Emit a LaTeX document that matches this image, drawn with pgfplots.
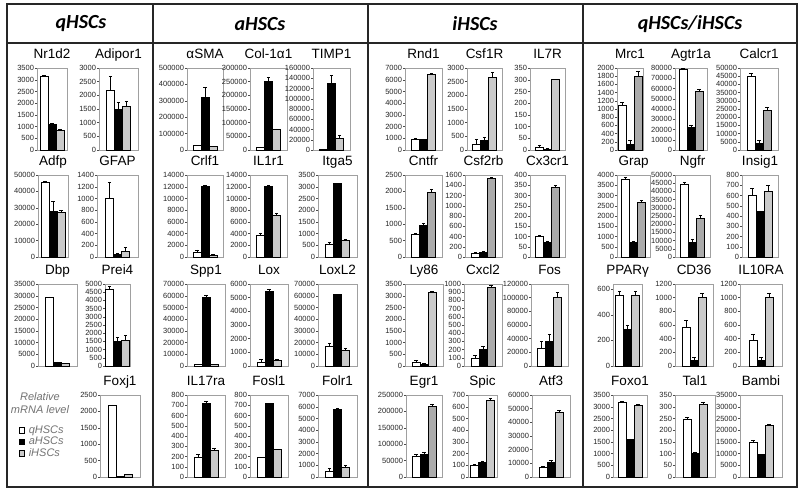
\documentclass[border=0pt]{standalone}
\usepackage{pgfplots}
\pgfplotsset{compat=1.18}
\usepackage{fontspec}
\setmainfont{Liberation Sans}
\newfontfamily\hdrfont{Carlito}
\definecolor{ibar}{HTML}{CACACA}
\definecolor{ibarD}{HTML}{ABABAB}
\definecolor{boxc}{HTML}{A0A0A0}
\pgfplotsset{
  panel/.style={
    scale only axis, clip=false,
    axis line style={boxc, line width=0.6pt},
    ymin=0, xtick=\empty, ytick pos=left,
    ytick style={black!70, line width=0.4pt}, tick align=outside, major tick length=2pt,
    yticklabel style={font=\fontsize{7.5}{7.5}\selectfont, inner sep=0.8pt, text=black!85},
    /pgf/number format/assume math mode=true,
    /pgf/number format/fixed,
    /pgf/number format/precision=0,
    /pgf/number format/1000 sep={},
    scaled y ticks=false,
    title style={font=\fontsize{13.5}{13.5}\selectfont, at={(0.5,1)}, anchor=base, yshift=3.5pt, inner sep=0pt},
    error bars/y dir=plus, error bars/y explicit,
    error bars/error bar style={black, line width=0.5pt},
    error bars/error mark options={rotate=90, mark size=1.6pt, line width=0.5pt, black},
  },
  bq/.style={ybar, bar width=1, bar shift=0pt, fill=white, draw=black, line width=0.5pt},
  ba/.style={ybar, bar width=1, bar shift=0pt, fill=black, draw=black, line width=0.5pt},
  bi/.style={ybar, bar width=1, bar shift=0pt, fill=ibar, draw=black, line width=0.5pt},
  dark/.style={bi/.append style={fill=ibarD}},
  sqlegend/.style={legend image code/.code={\draw[##1,/tikz/.cd,line width=0.5pt] (0pt,-2.6pt) rectangle (5.4pt,2.8pt);}},
}
\newcommand\panel[6]{%
  \pgfmathsetmacro\xa{2-#3/16}\pgfmathsetmacro\xb{2+#3/16}%
  \begin{axis}[panel, at={(#1pt,#2pt)}, anchor=south west, width=#3pt, height=82pt,
      xmin=\xa, xmax=\xb, title={#5}, #4]
  \addplot[bq] table[header=false, row sep=\\, x expr=1, y index=0, y error index=1] {#6\\};
  \addplot[ba] table[header=false, row sep=\\, x expr=2, y index=2, y error index=3] {#6\\};
  \addplot[bi] table[header=false, row sep=\\, x expr=3, y index=4, y error index=5] {#6\\};
  \end{axis}}
\begin{document}
\begin{tikzpicture}[x=1pt,y=1pt]
\fill[white] (0,0) rectangle (800,494);
% frame
\draw[line width=1.6pt, black!85] (7,7) rectangle (797,490);
\draw[line width=1.6pt, black!85] (7,451) -- (797,451);
\foreach \xx in {153,368,583} \draw[line width=1.6pt, black!85] (\xx,7) -- (\xx,490);
\node[font=\hdrfont\bfseries\itshape\fontsize{20}{20}\selectfont] at (81,470) {qHSCs};
\node[font=\hdrfont\bfseries\itshape\fontsize{20}{20}\selectfont] at (260,470) {aHSCs};
\node[font=\hdrfont\bfseries\itshape\fontsize{20}{20}\selectfont] at (475,470) {iHSCs};
\node[font=\hdrfont\bfseries\itshape\fontsize{20}{20}\selectfont] at (690,470) {qHSCs/iHSCs};
% row 1
\panel{37}{344}{30}{ymax=3500, ytick distance=500}{Nr1d2}{3150 50 1100 30 850 40}
\panel{99}{344}{39}{ymax=3000, ytick distance=500}{Adipor1}{2200 480 1500 250 1600 200}
\panel{187}{344}{36}{ymax=500000, ytick distance=100000}{αSMA}{30000 0 320000 60000 22000 0}
\panel{250}{344}{37}{ymax=300000, ytick distance=50000}{Col-1α1}{10000 0 250000 15000 75000 2000}
\panel{313}{344}{37}{ymax=160000, ytick distance=20000}{TIMP1}{1500 0 130000 15000 22000 6000}
\panel{405}{344}{37}{ymax=7000, ytick distance=1000}{Rnd1}{920 120 880 40 6430 80}
\panel{467}{344}{35}{ymax=3000, ytick distance=500}{Csf1R}{200 200 350 130 2650 180}
\panel{530}{344}{35}{ymax=350, ytick distance=50}{IL7R}{12 10 5 3 300 3}
\panel{617}{344}{26}{ymax=2000, ytick distance=200, dark}{Mrc1}{1100 70 150 80 1800 120}
\panel{675}{344}{32}{ymax=80000, ytick distance=10000, dark}{Agtr1a}{79000 600 22000 2500 57000 2000}
\panel{740}{344}{38}{ymax=50000, ytick distance=5000, dark}{Calcr1}{45000 1500 4000 2000 24000 2000}
% row 2
\panel{38}{237}{30}{ymax=50000, ytick distance=10000}{Adfp}{45500 700 28000 6000 27500 800}
\panel{97}{237}{41}{ymax=1400, ytick distance=200}{GFAP}{1000 280 50 10 100 70}
\panel{187}{237}{36}{ymax=14000, ytick distance=2000}{Crlf1}{800 400 12100 150 300 150}
\panel{250}{237}{37}{ymax=14000, ytick distance=2000}{IL1r1}{3700 400 12000 200 7200 300}
\panel{318}{237}{39}{ymax=3500, ytick distance=500}{Itga5}{550 100 3150 0 700 50}
\panel{405}{237}{37}{ymax=2500, ytick distance=500, dark}{Cntfr}{680 50 980 60 1980 100}
\panel{465}{237}{37}{ymax=1600, ytick distance=200, dark}{Csf2rb}{70 15 90 15 1530 20}
\panel{530}{237}{35}{ymax=400, ytick distance=50, dark}{Cx3cr1}{100 5 70 8 340 10}
\panel{617}{237}{33}{ymax=4000, ytick distance=500, dark}{Grap}{3800 100 700 80 2650 100}
\panel{675}{237}{35}{ymax=50000, ytick distance=5000, dark}{Ngfr}{44500 1000 9000 2000 23500 2000}
\panel{742}{237}{36}{ymax=800, ytick distance=100}{Insig1}{600 70 450 0 640 60}
% row 3
\panel{38}{128}{39}{ymax=35000, ytick distance=5000}{Dbp}{29500 0 1800 0 1200 0}
\panel{105}{128}{25}{ymax=5000, ytick distance=500}{Prei4}{4700 150 1500 250 1600 250}
\panel{187}{128}{38}{ymax=70000, ytick distance=10000}{Spp1}{1500 0 59000 1500 1500 0}
\panel{250}{128}{38}{ymax=6000, ytick distance=1000}{Lox}{250 250 5500 100 450 80}
\panel{318}{128}{39}{ymax=70000, ytick distance=10000}{LoxL2}{17000 2000 61000 0 13500 1500}
\panel{405}{128}{38}{ymax=3500, ytick distance=500}{Ly86}{150 100 80 30 3150 40}
\panel{464}{128}{38}{ymax=1000, ytick distance=100, dark}{Cxcl2}{90 35 210 30 960 30}
\panel{531}{128}{37}{ymax=120000, ytick distance=20000}{Fos}{26000 10000 36000 10000 101000 7000}
\panel{613}{128}{29}{ymax=640, ytick={0,200,400,600}}{PPARγ}{550 35 290 30 550 30}
\panel{675}{128}{38}{ymax=1200, ytick distance=200}{CD36}{570 100 80 50 1000 60}
\panel{740}{128}{42}{ymax=1200, ytick distance=200}{IL10RA}{370 90 80 50 1000 70}
% row 4
\panel{100}{17}{40}{ymax=2500, ytick distance=500, sqlegend,
   legend entries={qHSCs,aHSCs,iHSCs}, legend cell align=left,
   legend style={at={(axis description cs:-2.11,0.66)}, anchor=north west, draw=none, fill=none,
     font=\itshape\fontsize{11}{11}\selectfont, text=black!55, row sep=1pt, nodes={inner sep=0.6pt},
     /tikz/every odd column/.append style={column sep=3.5pt}},
   extra description/.code={\node[font=\itshape\fontsize{11}{12.5}\selectfont, text=black!55, align=center] at (axis description cs:-1.5,0.9) {Relative\\mRNA level};}
   }{Foxj1}{2200 0 30 0 80 0}
\panel{187}{17}{38}{ymax=800, ytick distance=100}{IL17ra}{195 25 720 15 265 15}
\panel{250}{17}{38}{ymax=800, ytick distance=100}{Fosl1}{195 0 720 0 270 0}
\panel{318}{17}{39}{ymax=7000, ytick distance=1000}{Folr1}{500 250 5800 100 800 200}
\panel{406}{17}{36}{ymax=250000, ytick distance=50000, dark}{Egr1}{64000 5000 70000 5000 216000 7000}
\panel{468}{17}{29}{ymax=700, ytick distance=100}{Spic}{100 10 125 12 655 15}
\panel{532}{17}{38}{ymax=60000, ytick distance=10000}{Atf3}{7000 1000 11000 1000 47500 1500}
\panel{613}{17}{34}{ymax=3500, ytick distance=500}{Foxo1}{3180 50 1600 30 3050 50}
\panel{675}{17}{40}{ymax=350, ytick distance=50}{Tal1}{245 10 100 7 310 10}
\panel{740}{17}{42}{ymax=35000, ytick distance=5000}{Bambi}{15000 700 9500 300 22000 300}
\end{tikzpicture}
\end{document}
